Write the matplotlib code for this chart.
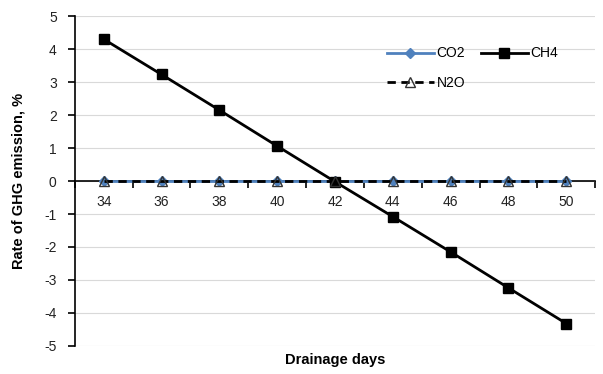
import numpy as np
import matplotlib.pyplot as plt

plt.rcParams['font.family'] = ['Liberation Sans', 'DejaVu Sans']
plt.rcParams['axes.unicode_minus'] = False

days = ['34', '36', '38', '40', '42', '44', '46', '48', '50']
co2 = [0, 0, 0, 0, 0, 0, 0, 0, 0]
ch4 = [4.30, 3.23, 2.15, 1.06, -0.02, -1.08, -2.15, -3.24, -4.32]
n2o = [0, 0, 0, 0, 0, 0, 0, 0, 0]

fig = plt.figure(figsize=(6.03, 3.74), dpi=100)
ax = fig.add_axes([0.124, 0.075, 0.863, 0.882])

x = np.arange(len(days))
l1, = ax.plot(x, co2, color='#4F81BD', lw=2, marker='D', ms=5, label='CO2', zorder=3)
l2, = ax.plot(x, ch4, color='black', lw=2, marker='s', ms=7, label='CH4', zorder=4)
l3, = ax.plot(x, n2o, color='black', lw=2, ls=(0, (3, 2)), marker='^', ms=7,
              mfc='none', mec='#333333', mew=1, label='N2O', zorder=5)

ax.set_xlim(-0.5, len(days) - 0.5)
ax.set_ylim(-5, 5)
ax.set_yticks(range(-5, 6))
ax.yaxis.grid(True, color='#D9D9D9', lw=0.8)
ax.set_axisbelow(True)

for s in ['top', 'right']:
    ax.spines[s].set_visible(False)
ax.spines['bottom'].set_position(('data', 0))
ax.spines['left'].set_linewidth(1.2)
ax.spines['bottom'].set_linewidth(1.2)

ax.set_xticks(x)
ax.set_xticklabels(days)
ax.set_xticks(np.arange(-0.5, len(days)), minor=True)
ax.tick_params(axis='x', which='major', length=0, pad=10, labelsize=10, colors='#222222')
ax.tick_params(axis='x', which='minor', direction='out', length=5, width=1.2)
ax.tick_params(axis='y', direction='out', length=5, width=1.2, labelsize=10, labelcolor='#222222', pad=8)

ax.set_ylabel('Rate of GHG emission, %', fontweight='bold', fontsize=10.5)
ax.set_xlabel('Drainage days', fontweight='bold', fontsize=10.5)
ax.xaxis.set_label_coords(0.5, -0.02)
ax.yaxis.set_label_coords(-0.095, 0.5)

# column-major fill: CO2, N2O in first column, CH4 in second
ax.legend([l1, l3, l2], ['CO2', 'N2O', 'CH4'], loc='upper right',
          bbox_to_anchor=(0.94, 0.925), ncol=2, frameon=False, borderaxespad=0,
          fontsize=10, handlelength=3.4, handletextpad=0.2, columnspacing=1.1,
          labelspacing=1.1)

fig.savefig('out.png', dpi=100)
